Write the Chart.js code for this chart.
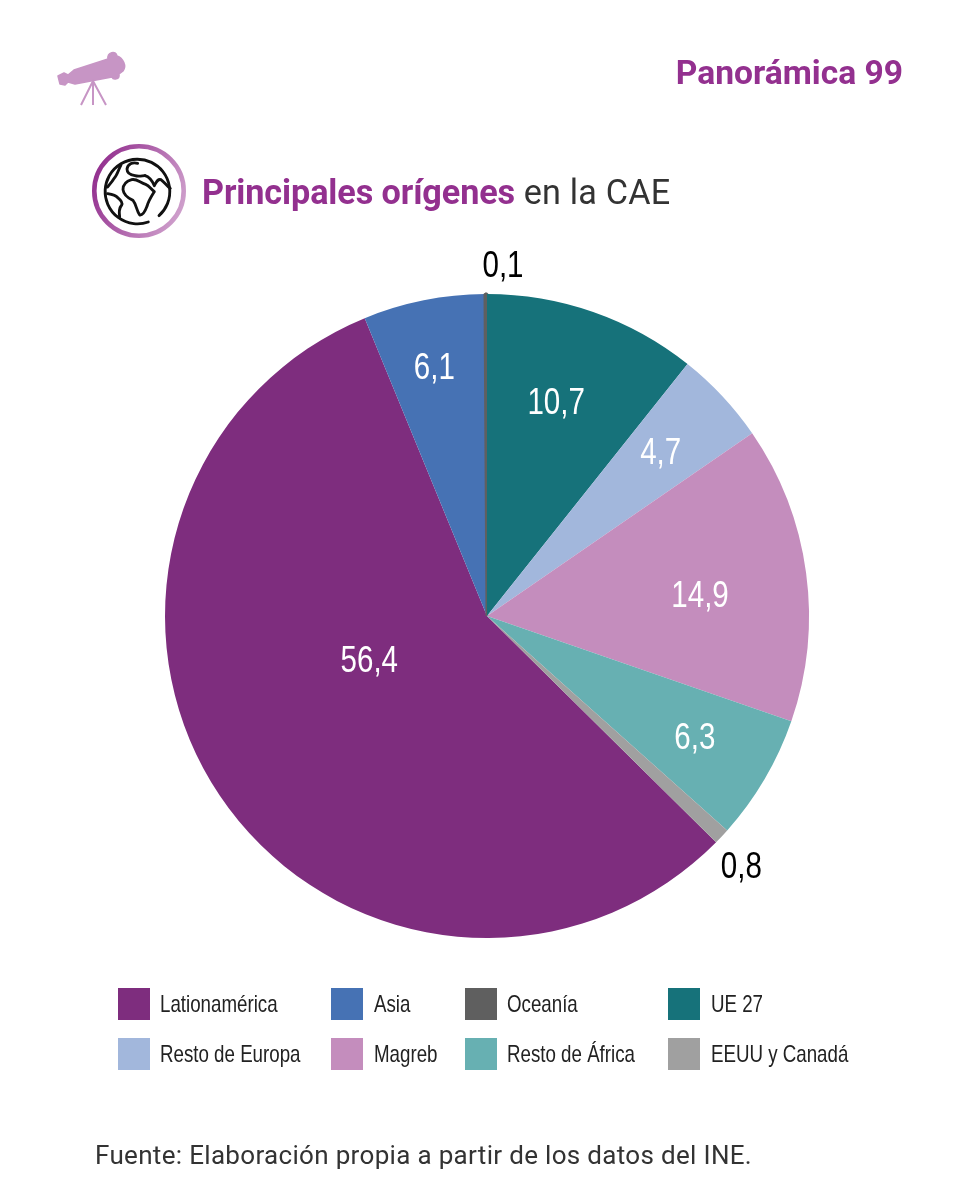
<!DOCTYPE html>
<html lang="es"><head><meta charset="utf-8">
<script src="https://cdn.jsdelivr.net/npm/chart.js@4"></script>
<style>
html,body{margin:0;padding:0;background:#fff;width:960px;height:1200px;overflow:hidden}
#wrap{position:relative;width:960px;height:1200px}
canvas{position:absolute;left:0;top:0}
.t{position:absolute;white-space:nowrap;line-height:1}
#pan{right:57px;top:53px;font:700 33.6px Roboto,sans-serif;color:#93308F}
#title{left:202px;top:172px;font:400 34.2px Roboto,sans-serif;letter-spacing:.2px;color:#333}
#title b{font-weight:700;letter-spacing:-.1px;color:#93308F}
#src{left:95px;top:1140px;font:400 26px Roboto,sans-serif;letter-spacing:.32px;color:#333}
.sw{position:absolute;width:32px;height:32px}
.lg{position:absolute;font:400 24px "Liberation Sans",sans-serif;color:#222;white-space:nowrap;line-height:32px;transform:scaleX(.78);transform-origin:left center}
svg{position:absolute;left:0;top:0}
</style></head><body><div id="wrap">
<canvas id="c" width="960" height="1200"></canvas>
<svg width="960" height="260" viewBox="0 0 960 260">
 <defs><linearGradient id="g" x1="0" x2="1" y1="0.3" y2="0.7"><stop offset="0" stop-color="#93308F"/><stop offset="1" stop-color="#CFA0CC"/></linearGradient></defs>
 <path fill="#C795C5" stroke="#C795C5" stroke-width="1.5" stroke-linejoin="round" d="M58 76L64 73 68 75 74 70 108 59C107 52 116 50 117 56 123 58 127 66 123 71L119 74C120 80 113 80 112 77L75 84 68 82 65 85 60 84Z"/>
 <path fill="none" stroke="#C795C5" stroke-width="2" d="M93 81L81 105M93 81V105M93 81L106 105"/>
 <circle cx="139" cy="191" r="44.7" fill="none" stroke="url(#g)" stroke-width="4.6"/>
 <g transform="translate(95,145) scale(.3333)" fill="none" stroke="#111" stroke-width="8.5" stroke-linecap="round" stroke-linejoin="round">
  <path d="M192 212A97 97 0 1 0 160 231"/>
  <path d="M128 55C112 50 98 58 96 72 96 84 106 90 120 92 132 96 142 92 150 92"/>
  <path d="M150 92C164 96 172 108 178 122 184 112 188 100 198 104 208 110 214 122 226 130"/>
  <path d="M178 140C168 156 160 168 156 184 150 200 144 212 134 210 124 196 124 178 114 166 100 160 86 150 84 134 84 118 96 108 110 104 124 100 134 112 152 118 162 122 168 132 178 140Z"/>
  <path d="M78 60C70 74 68 90 56 102 50 112 44 118 38 126"/>
  <path d="M38 146C50 148 62 150 68 158 78 166 84 172 80 180 72 190 72 204 74 216"/>
 </g>
</svg>
<div id="pan" class="t">Panorámica 99</div>
<div id="title" class="t"><b>Principales orígenes</b> en la CAE</div>
<div id="src" class="t">Fuente: Elaboración propia a partir de los datos del INE.</div>
<div id="legend"></div>
</div>
<script>
const categories=["Lationamérica","Asia","Oceanía","UE 27","Resto de Europa","Magreb","Resto de África","EEUU y Canadá"];
const values=[56.4,6.1,0.1,10.7,4.7,14.9,6.3,0.8];
const colors=["#7E2D7E","#4672B4","#5F5F5F","#16727A","#A2B7DC","#C48DBD","#67B0B2","#A0A0A0"];
const labelColors=["#fff","#fff","#000","#fff","#fff","#fff","#fff","#000"];
const labelOffsets=[[16,-44],[-21,-89],[16.5,-188],[16,-60],[56,-52],[53.5,3],[69,41.5],[137,142]];
const sliceBorders=[0,0,3,0,0,0,0,0];
const legendCols=[118,331,465,668];
const legendRows=[988,1038];
const legendTextGap=[42,43,42,43];

const lg=document.getElementById('legend');
categories.forEach((name,i)=>{
  const col=i%4,row=Math.floor(i/4);
  const s=document.createElement('div');s.className='sw';
  s.style.cssText=`left:${legendCols[col]}px;top:${legendRows[row]}px;background:${colors[i]}`;
  const t=document.createElement('div');t.className='lg';t.textContent=name;
  t.style.left=(legendCols[col]+legendTextGap[col])+'px';t.style.top=legendRows[row]+'px';
  lg.append(s,t);
});

const valueLabels={id:'valueLabels',afterDatasetsDraw(ch){
  const x=ch.ctx;
  ch.getDatasetMeta(0).data.forEach((a,i)=>{
    const p=a.getCenterPoint();
    x.save();
    x.translate(p.x+labelOffsets[i][0],p.y+labelOffsets[i][1]);
    x.scale(.82,1);
    x.font='400 36px "Liberation Sans",sans-serif';
    x.textAlign='center';x.textBaseline='middle';
    x.fillStyle=labelColors[i];
    x.fillText(values[i].toFixed(1).replace('.',','),0,0);
    x.restore();
  });
}};
const total=values.reduce((a,b)=>a+b,0);
const firstThree=values.slice(0,3).reduce((a,b)=>a+b,0);
new Chart(document.getElementById('c'),{
  type:'pie',
  data:{labels:categories,datasets:[{data:values,backgroundColor:colors,borderColor:colors,borderWidth:sliceBorders,borderJoinStyle:'bevel'}]},
  options:{responsive:false,animation:false,rotation:-firstThree/total*360,
    layout:{padding:{left:163.5,right:149.5,top:292.5,bottom:260.5}},
    plugins:{legend:{display:false},title:{display:false},tooltip:{enabled:false}}},
  plugins:[valueLabels]
});
</script></body></html>
